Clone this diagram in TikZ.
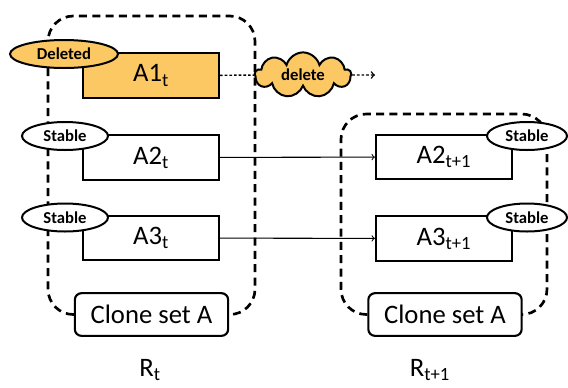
\documentclass[tikz,border=0pt]{standalone}
\usepackage{fontspec}
\setmainfont{Carlito}
\usetikzlibrary{shapes.geometric,shapes.symbols}
\definecolor{delorange}{RGB}{252,200,100}

\begin{document}
\begin{tikzpicture}[x=0.75pt,y=-0.75pt,
        fragment/.style={draw,line width=1.6pt,minimum width=102pt,minimum height=33.5pt,inner sep=0pt,font=\fontsize{20}{24}\selectfont},
        status/.style={draw,ellipse,line width=1.5pt,fill=white,minimum width=64.5pt,minimum height=21pt,inner sep=0pt,font=\fontsize{12.5}{15}\selectfont\bfseries},
        cloneset/.style={draw,rounded corners=5pt,line width=1.6pt,minimum width=115pt,minimum height=32pt,inner sep=0pt,font=\fontsize{20}{24}\selectfont},
        region/.style={line width=2pt,dash pattern=on 6pt off 4pt,rounded corners=19pt},
        revname/.style={font=\fontsize{20}{24}\selectfont}]
                \useasboundingbox (0,0) rectangle (568,387);

                \node[cloneset] (cla) at (151.5,314.5) {Clone set A};
                \node[cloneset] (clb) at (445,314.5) {Clone set A};
                \draw[region] (cla.west) -| (48,16) -| (255,314.5) -- (cla.east);
                \draw[region] (clb.west) -| (341,114) -| (547,314.5) -- (clb.east);

                \node[fragment,fill=delorange] (a1) at (151,75.5) {A1\textsubscript{t}};
                \node[fragment] (a2) at (151,157.5) {A2\textsubscript{t}};
                \node[fragment] (a3) at (151,238) {A3\textsubscript{t}};
                \node[fragment] (a2n) at (444,157) {A2\textsubscript{t+1}};
                \node[fragment] (a3n) at (444,238.5) {A3\textsubscript{t+1}};

                \node[status,fill=delorange,minimum width=81pt] (deleted) at (64,54) {Deleted};
                \node[status] (s2) at (65,136) {Stable};
                \node[status] (s3) at (65,217.5) {Stable};
                \node[status,minimum width=60pt] (s2n) at (527,136) {Stable};
                \node[status,minimum width=60pt] (s3n) at (527,217.5) {Stable};

                \node[cloud,cloud puffs=9,aspect=2.0,draw,fill=delorange,line width=1.5pt,minimum width=72pt,minimum height=27pt,inner sep=0pt,font=\fontsize{12.5}{15}\selectfont\bfseries] (del) at (303,75) {delete};
                \coordinate (gone) at (375,75);

                \node[revname] (rt) at (150,370) {R\textsubscript{t}};
                \node[revname] (rtn) at (430,370) {R\textsubscript{t+1}};

                \draw[line width=1.1pt,dash pattern=on 2pt off 1.5pt] (a1) to (del);
                \draw[->,line width=1.1pt,dash pattern=on 2pt off 1.5pt] (del) to (gone);
                \draw[->,line width=0.8pt] (a2) to (a2n);
                \draw[->,line width=0.8pt] (a3) to (a3n);
            \end{tikzpicture}
\end{document}
